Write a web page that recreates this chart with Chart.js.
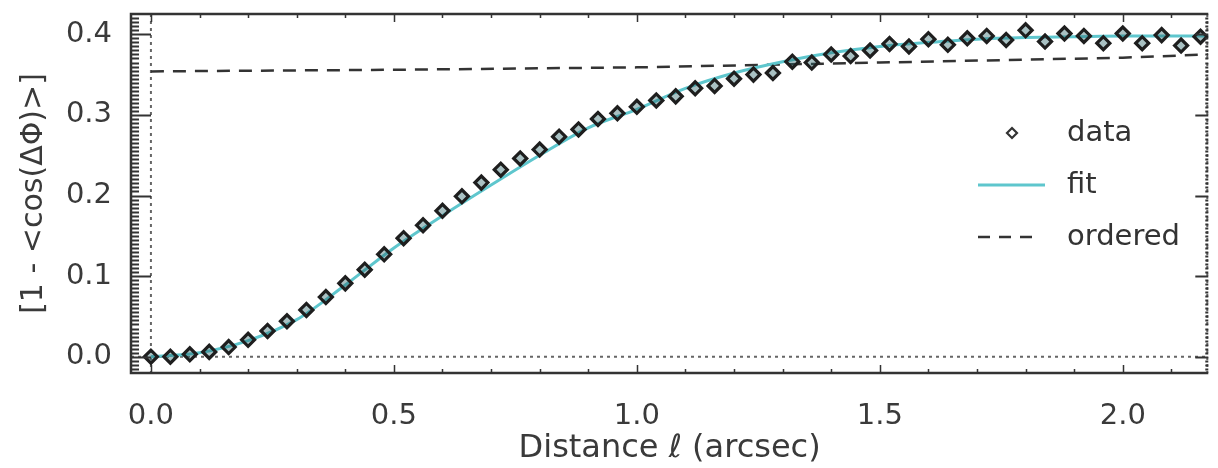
<!DOCTYPE html>
<html>
<head>
<meta charset="utf-8">
<script src="https://cdn.jsdelivr.net/npm/chart.js@4.4.1/dist/chart.umd.min.js"></script>
<style>
  html, body { margin: 0; padding: 0; background: #fff; }
  canvas { display: block; }
</style>
</head>
<body>
<canvas id="mainChart" width="1218" height="468"></canvas>
<script>
// measured points (diamonds)
const distance = [
  0.00, 0.04, 0.08, 0.12, 0.16, 0.20, 0.24, 0.28, 0.32, 0.36,
  0.40, 0.44, 0.48, 0.52, 0.56, 0.60, 0.64, 0.68, 0.72, 0.76,
  0.80, 0.84, 0.88, 0.92, 0.96, 1.00, 1.04, 1.08, 1.12, 1.16,
  1.20, 1.24, 1.28, 1.32, 1.36, 1.40, 1.44, 1.48, 1.52, 1.56,
  1.60, 1.64, 1.68, 1.72, 1.76, 1.80, 1.84, 1.88, 1.92, 1.96,
  2.00, 2.04, 2.08, 2.12, 2.16
];
const structureFn = [
  0.000, 0.000, 0.003, 0.006, 0.012, 0.021, 0.032, 0.044, 0.058, 0.074,
  0.091, 0.108, 0.127, 0.147, 0.163, 0.181, 0.199, 0.216, 0.232, 0.246,
  0.257, 0.273, 0.282, 0.295, 0.302, 0.310, 0.318, 0.323, 0.333, 0.336,
  0.345, 0.350, 0.352, 0.366, 0.365, 0.375, 0.373, 0.380, 0.388, 0.385,
  0.394, 0.387, 0.395, 0.398, 0.393, 0.405, 0.391, 0.401, 0.398, 0.389,
  0.401, 0.389, 0.399, 0.386, 0.397
];

// fitted curve
const fitDistance = [0.0, 0.1, 0.2, 0.3, 0.4, 0.5, 0.6, 0.7, 0.8, 0.9, 1.0, 1.1,
  1.2, 1.3, 1.4, 1.5, 1.6, 1.7, 1.8, 1.9, 2.0, 2.1, 2.176];
const fitValues = [0.000, 0.005, 0.020, 0.046, 0.089, 0.135, 0.175, 0.213, 0.250, 0.284, 0.307, 0.333,
  0.352, 0.366, 0.377, 0.385, 0.390, 0.394, 0.396, 0.397, 0.398, 0.398, 0.398];

// "ordered" dashed reference
const orderedDistance = [0.0, 0.5, 1.0, 1.5, 2.0, 2.176];
const orderedValues = [0.354, 0.356, 0.359, 0.365, 0.371, 0.375];

const xTicks = [0.0, 0.5, 1.0, 1.5, 2.0];
const yTicks = [0.0, 0.1, 0.2, 0.3, 0.4];

const ink = '#333';
const cyan = '#5ec6cd';
const font = 'DejaVu Sans';

const pairs = (xs, ys) => xs.map((v, i) => ({x: v, y: ys[i]}));

// box, inward ticks, dotted zero lines, legend
const framePlugin = {
  id: 'framePlugin',
  beforeDatasetsDraw(chart) {
    const {ctx, chartArea: a, scales: {x, y}} = chart;
    const x0 = x.getPixelForValue(0);
    const y0 = y.getPixelForValue(0);
    ctx.save();
    ctx.strokeStyle = '#666';
    ctx.lineWidth = 2;
    ctx.setLineDash([3, 4]);
    ctx.beginPath();
    ctx.moveTo(x0, a.top); ctx.lineTo(x0, a.bottom);
    ctx.moveTo(a.left, y0); ctx.lineTo(a.right, y0);
    ctx.moveTo(a.right - 1, a.top); ctx.lineTo(a.right - 1, a.bottom);
    ctx.stroke();
    ctx.restore();
  },
  afterDatasetsDraw(chart) {
    const {ctx, chartArea: a, scales: {x, y}} = chart;
    ctx.save();
    ctx.strokeStyle = ink;
    ctx.lineWidth = 2.5;
    ctx.beginPath();
    ctx.moveTo(a.right, a.top); ctx.lineTo(a.left, a.top);
    ctx.lineTo(a.left, a.bottom); ctx.lineTo(a.right, a.bottom);
    ctx.stroke();

    // y ticks every 0.005, long ones every 0.1
    for (let i = -4; i <= 85; i++) {
      const py = Math.round(y.getPixelForValue(i * 0.005)) + 0.5;
      if (py < a.top + 2 || py > a.bottom - 2) continue;
      const major = i % 20 === 0;
      ctx.lineWidth = major ? 2 : 1.8;
      ctx.beginPath();
      ctx.moveTo(a.left, py); ctx.lineTo(a.left + (major ? 20 : 8), py);
      ctx.moveTo(a.right, py); ctx.lineTo(a.right - (major ? 13 : 3), py);
      ctx.stroke();
    }
    // x ticks every 0.1, long ones every 0.5
    ctx.lineWidth = 1.5;
    for (let i = 0; i <= 21; i++) {
      const px = Math.round(x.getPixelForValue(i * 0.1)) + 0.5;
      const len = i % 5 === 0 ? 8 : 4;
      ctx.beginPath();
      ctx.moveTo(px, a.bottom); ctx.lineTo(px, a.bottom - len);
      ctx.moveTo(px, a.top); ctx.lineTo(px, a.top + len);
      ctx.stroke();
    }
    ctx.restore();
  },
  afterDraw(chart) {
    const {ctx} = chart;
    const ds = chart.data.datasets;
    const lx = 978, tx = 1067;
    const rows = [133, 185, 237];
    ctx.save();
    // diamond
    ctx.strokeStyle = ink;
    ctx.lineWidth = 2.2;
    ctx.beginPath();
    ctx.moveTo(1012, rows[0] - 5); ctx.lineTo(1017, rows[0]);
    ctx.lineTo(1012, rows[0] + 5); ctx.lineTo(1007, rows[0]);
    ctx.closePath();
    ctx.stroke();
    // fit
    ctx.strokeStyle = cyan;
    ctx.lineWidth = 3;
    ctx.beginPath(); ctx.moveTo(lx, rows[1]); ctx.lineTo(1045, rows[1]); ctx.stroke();
    // ordered
    ctx.strokeStyle = ink;
    ctx.lineWidth = 2.5;
    ctx.setLineDash([12, 9]);
    ctx.beginPath(); ctx.moveTo(lx, rows[2]); ctx.lineTo(1040, rows[2]); ctx.stroke();
    ctx.setLineDash([]);

    ctx.fillStyle = ink;
    ctx.font = '29px "' + font + '"';
    ctx.textBaseline = 'middle';
    ctx.textAlign = 'left';
    ds.forEach((d, i) => ctx.fillText(d.label, tx, rows[i]));
    ctx.restore();
  }
};

new Chart(document.getElementById('mainChart').getContext('2d'), {
  type: 'scatter',
  data: {
    datasets: [
      {
        label: 'data',
        data: pairs(distance, structureFn),
        pointStyle: 'rectRot',
        pointRadius: 6.5,
        pointBorderWidth: 3.2,
        pointBorderColor: '#1e1e1e',
        pointBackgroundColor: 'rgba(40,100,105,0.4)',
        showLine: false,
        order: 0
      },
      {
        label: 'fit',
        data: pairs(fitDistance, fitValues),
        showLine: true,
        borderColor: cyan,
        borderWidth: 3,
        pointRadius: 0,
        cubicInterpolationMode: 'monotone',
        order: 1
      },
      {
        label: 'ordered',
        data: pairs(orderedDistance, orderedValues),
        showLine: true,
        borderColor: ink,
        borderWidth: 2.5,
        borderDash: [13, 9],
        pointRadius: 0,
        order: 2
      }
    ]
  },
  options: {
    responsive: false,
    animation: false,
    layout: { padding: { top: 14, right: 1, left: 0, bottom: 0 } },
    plugins: { legend: { display: false }, tooltip: { enabled: false } },
    scales: {
      x: {
        type: 'linear',
        min: -0.041,
        max: 2.176,
        afterFit: s => { s.height = 95; s.paddingLeft = 0; s.paddingRight = 0; },
        afterBuildTicks: s => { s.ticks = xTicks.map(v => ({value: v})); },
        grid: { display: false },
        border: { display: false },
        ticks: {
          padding: 18,
          color: '#3a3a3a',
          font: { family: font, size: 29 },
          callback: v => v.toFixed(1)
        },
        title: {
          display: true,
          text: 'Distance ℓ (arcsec)',
          color: '#3a3a3a',
          font: { family: font, size: 32 },
          padding: { top: 0, bottom: 0 }
        }
      },
      y: {
        type: 'linear',
        min: -0.0202,
        max: 0.4252,
        afterFit: s => { s.width = 131; s.paddingTop = 0; s.paddingBottom = 0; },
        afterBuildTicks: s => { s.ticks = yTicks.map(v => ({value: v})); },
        grid: { display: false },
        border: { display: false },
        ticks: {
          padding: 11,
          color: '#3a3a3a',
          font: { family: font, size: 29 },
          callback: v => v.toFixed(1)
        },
        title: {
          display: true,
          text: '[1 - <cos(ΔΦ)>]',
          color: '#3a3a3a',
          font: { family: font, size: 30 },
          padding: { top: 16, bottom: 0 }
        }
      }
    }
  },
  plugins: [framePlugin]
});
</script>
</body>
</html>
